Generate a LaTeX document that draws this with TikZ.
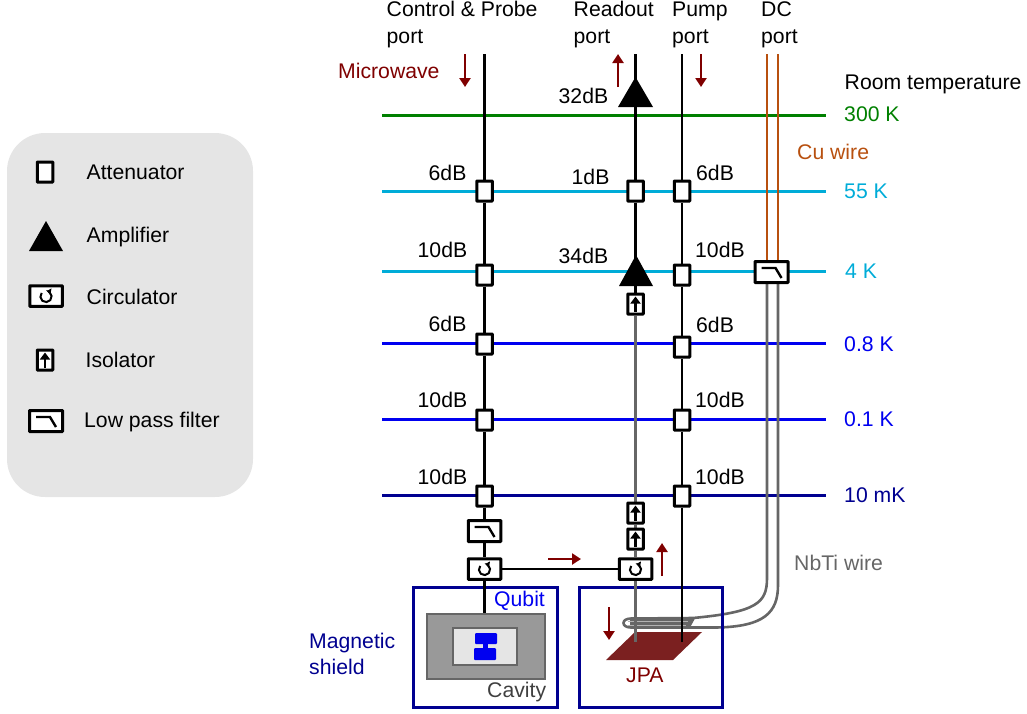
\documentclass[tikz,border=0pt]{standalone}
\usepackage{fontspec}
\setmainfont{Liberation Sans}
\usetikzlibrary{arrows.meta,backgrounds}
\definecolor{lgreen}{HTML}{008000}
\definecolor{lcyan}{HTML}{00ACD8}
\definecolor{lblue}{HTML}{0000F0}
\definecolor{lnavy}{HTML}{000090}
\definecolor{dred}{HTML}{7F0000}
\definecolor{cuwire}{HTML}{B8500F}
\definecolor{nbwire}{HTML}{666666}
\definecolor{jpared}{HTML}{7B2020}
\definecolor{legendbg}{HTML}{E5E5E5}
\tikzset{
  x=1pt,y=-1pt,
  every node/.style={font=\fontsize{21.2}{25}\selectfont},
  lab/.style={anchor=west,inner sep=0pt,text height=16.5pt,text depth=2.5pt,text=black},
  part/.style={draw=black,line width=3pt,fill=white,inner sep=0pt,rounded corners=0.5pt},
  atten/.style={part,minimum width=15.5pt,minimum height=20pt},
  widebox/.style={part,minimum width=32.5pt,minimum height=20.5pt},
  level/.style={line width=3pt},
  sig/.style={line width=2.8pt,draw=black},
  nbti/.style={line width=2.6pt,draw=nbwire},
  cu/.style={line width=2.4pt,draw=cuwire},
  flow/.style={line width=2.6pt,draw=dred,-{Triangle[length=9pt,width=11pt]}},
  tick/.style={inner sep=0pt,minimum size=0pt},
  shield/.style={draw=lnavy,line width=2.6pt,inner sep=0pt},
}
\newcommand{\lpfmark}[1]{\draw[line width=2.4pt] ([xshift=-10pt,yshift=4pt]#1.center) -- ([xshift=4pt,yshift=4pt]#1.center) -- ([xshift=10pt,yshift=-6pt]#1.center);}
\newcommand{\isomark}[1]{\draw[line width=2.4pt,-{Triangle[length=7pt,width=10pt]}] ([yshift=-7.5pt]#1.center) -- ([yshift=7.5pt]#1.center);}
\newcommand{\circmark}[1]{\draw[line width=2pt,-{Triangle[length=4pt,width=6.5pt]}] ([xshift=-4.3pt,yshift=3.1pt]#1.center) arc[start angle=140,end angle=440,radius=5.6pt];}
\begin{document}
\begin{tikzpicture}
\useasboundingbox (0,0) rectangle (1027,713);
% legend
\node[draw=none,fill=legendbg,rounded corners=38pt,minimum width=246pt,minimum height=364pt,inner sep=0pt] (legend) at (130,315) {};
\node[atten] (lgA) at (45,172) {};
\path[fill=black] (46,221) -- (63,251) -- (29,251) -- cycle;
\node[widebox] (lgC) at (46,296) {}; \circmark{lgC}
\node[atten] (lgI) at (45,360) {}; \isomark{lgI}
\node[widebox,minimum width=33pt,minimum height=21pt] (lgL) at (46,421) {}; \lpfmark{lgL}
\node[lab] (tA) at (86.5,172) {Attenuator};
\node[lab] (tB) at (86.5,235) {Amplifier};
\node[lab] (tC) at (86.5,297) {Circulator};
\node[lab] (tD) at (85.5,360) {Isolator};
\node[lab] (tE) at (84,420) {Low pass filter};
% cavity
\node[draw=nbwire,line width=2.8pt,fill=black!40,minimum width=118pt,minimum height=65pt,inner sep=0pt] (cav) at (486,646.5) {};
\node[draw=nbwire,line width=2.8pt,fill=legendbg,minimum width=64pt,minimum height=37pt,inner sep=0pt] (chip) at (485,646.5) {};
\fill[lblue,rounded corners=1pt] (475,633) rectangle (497,644);
\fill[lblue] (483,643) rectangle (488,649);
\fill[lblue,rounded corners=1pt] (474,648) rectangle (496,660);
\coordinate (cavtop) at (484.5,614);
% level end points
\foreach \n/\y in {a/115,b/191,c/271,d/343,e/419,f/495}{
  \coordinate (L\n) at (382,\y); \coordinate (R\n) at (826,\y);}
% parts
\foreach \n/\y in {cA/191,cB/275,cC/344,cD/420,cE/496}{\node[atten] (\n) at (484.5,\y) {};}
\foreach \n/\y in {pA/191,pB/275,pC/347,pD/420,pE/496}{\node[atten] (\n) at (682,\y) {};}
\node[atten] (rA) at (635.5,191) {};
\node[tick] (ampA) at (635.5,92) {};
\path[fill=black] (635.5,77) -- (653,107) -- (618,107) -- cycle;
\node[tick] (ampB) at (635.5,271) {};
\path[fill=black] (636,255) -- (653,286) -- (619,286) -- cycle;
\node[atten] (iA) at (635.5,304) {}; \isomark{iA}
\node[atten] (iB) at (635.5,513) {}; \isomark{iB}
\node[atten] (iC) at (635.5,539) {}; \isomark{iC}
\node[widebox,minimum height=21pt] (fA) at (484.5,531) {}; \lpfmark{fA}
\node[widebox,minimum width=33pt,minimum height=21pt] (fB) at (771.5,272) {}; \lpfmark{fB}
\node[widebox] (zA) at (484.5,569) {}; \circmark{zA}
\node[widebox] (zB) at (635.5,569) {}; \circmark{zB}
% free wire ends
\coordinate (topC) at (484.5,54); \coordinate (topR) at (635.5,54); \coordinate (topP) at (682,54);
\coordinate (topDa) at (767,54); \coordinate (topDb) at (778,54);
\coordinate (inDa) at (767,262); \coordinate (inDb) at (778,262);
\coordinate (outDa) at (767,283); \coordinate (outDb) at (778,283);
\coordinate (endR) at (635.5,642); \coordinate (endP) at (682,642);
\begin{pgfonlayer}{background}
  \draw[level,lgreen] (La) -- (Ra);
  \draw[level,lcyan] (Lb) -- (Rb) (Lc) -- (Rc);
  \draw[level,lblue] (Ld) -- (Rd) (Le) -- (Re);
  \draw[level,lnavy] (Lf) -- (Rf);
  \draw[cu] (topDa) -- (inDa) (topDb) -- (inDb);
  \draw[nbti] (outDa) -- (767,578) .. controls (767,603) and (757,612) .. (693,618) -- (631,618.5)
     .. controls (621,618.5) and (621,627.5) .. (631,627.5) -- (715,627.5)
     .. controls (765,627) and (778,612) .. (778,585) -- (outDb);
  \fill[nbwire] (630,618.5) -- (695,618.5) -- (690,627.5) -- (630,627.5) -- cycle;
  \draw[line width=0.8pt,black!30] (628,621.5) -- (688,621.5) (628,625) -- (686,625);
  \node[shield,minimum width=144pt,minimum height=120pt] (shA) at (485.5,647.5) {};
  \node[shield,minimum width=143pt,minimum height=120pt] (shB) at (651,647.5) {};
  \path[fill=jpared] (606,660) -- (673,660) -- (702,632) -- (635,632) -- cycle;
  \draw[sig] (topC) -- (cA) -- (cB) -- (cC) -- (cD) -- (cE) -- (fA) -- (zA) -- (cavtop);
  \draw[sig] (topP) -- (pA) -- (pB) -- (pC) -- (pD) -- (pE) -- (endP);
  \draw[sig] (topR) -- (ampA) -- (rA) -- (ampB) -- (iA);
  \draw[sig,draw=nbwire] (iA) -- (iB) -- (iC) -- (zB) -- (endR);
  \draw[sig] (zA) -- (zB);
\end{pgfonlayer}
% flow arrows
\coordinate (fa1) at (465,54); \coordinate (fa2) at (465,87);
\coordinate (fb1) at (618,87); \coordinate (fb2) at (618,54);
\coordinate (fc1) at (701,54); \coordinate (fc2) at (701,87);
\coordinate (fd1) at (609,607); \coordinate (fd2) at (609,640);
\coordinate (fe1) at (662,576); \coordinate (fe2) at (662,543);
\coordinate (ff1) at (548,559); \coordinate (ff2) at (581,559);
\draw[flow] (fa1) -- (fa2);
\draw[flow] (fb1) -- (fb2);
\draw[flow] (fc1) -- (fc2);
\draw[flow] (fd1) -- (fd2);
\draw[flow] (fe1) -- (fe2);
\draw[flow] (ff1) -- (ff2);
% texts
\node[lab] (n1) at (386.5,9) {Control \& Probe};
\node[lab] (n2) at (386.5,36) {port};
\node[lab] (n3) at (573.5,9) {Readout};
\node[lab] (n4) at (573.5,36) {port};
\node[lab] (n5) at (672,9) {Pump};
\node[lab] (n6) at (672,36) {port};
\node[lab] (n7) at (761,9) {DC};
\node[lab] (n8) at (761,36) {port};
\node[lab,text=dred] (n9) at (338,71) {Microwave};
\node[lab] (n10) at (844.5,82) {Room temperature};
\node[lab,text=lgreen] (n11) at (844,114.5) {300 K};
\node[lab,text=cuwire] (n12) at (797,152) {Cu wire};
\node[lab,text=lcyan] (n13) at (844,191) {55 K};
\node[lab,text=lcyan] (n14) at (845,271) {4 K};
\node[lab,text=lblue] (n15) at (844,344) {0.8 K};
\node[lab,text=lblue] (n16) at (844,419) {0.1 K};
\node[lab,text=lnavy] (n17) at (844,495) {10 mK};
\node[lab] (d1) at (428.5,173) {6dB};
\node[lab] (d2) at (417.5,250) {10dB};
\node[lab] (d3) at (428.5,324) {6dB};
\node[lab] (d4) at (417.5,400) {10dB};
\node[lab] (d5) at (417.5,477) {10dB};
\node[lab] (d6) at (558.5,96) {32dB};
\node[lab] (d7) at (571.5,177) {1dB};
\node[lab] (d8) at (558.5,256) {34dB};
\node[lab] (d9) at (696,173) {6dB};
\node[lab] (d10) at (695,250) {10dB};
\node[lab] (d11) at (696,325) {6dB};
\node[lab] (d12) at (695,400) {10dB};
\node[lab] (d13) at (695,477) {10dB};
\node[lab,text=nbwire] (n18) at (794,563) {NbTi wire};
\node[lab,text=lblue] (n19) at (494,599) {Qubit};
\node[lab,text=black!75] (n20) at (487,690) {Cavity};
\node[lab,text=dred] (n21) at (626,675) {JPA};
\node[lab,text=lnavy] (n22) at (309,641) {Magnetic};
\node[lab,text=lnavy] (n23) at (309,667) {shield};
\end{tikzpicture}
\end{document}
